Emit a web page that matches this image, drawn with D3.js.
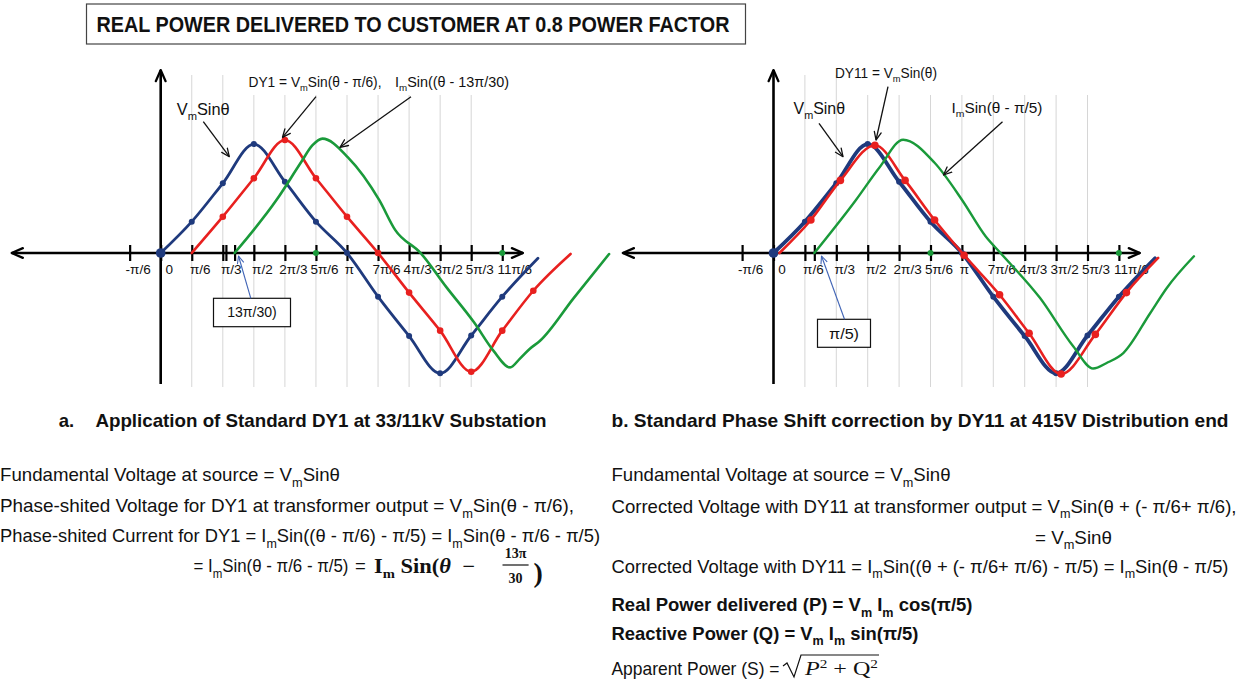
<!DOCTYPE html>
<html>
<head>
<meta charset="utf-8">
<script src="https://cdn.jsdelivr.net/npm/d3@7"></script>
<style>
body { margin: 0; background: #fff; }
svg text { font-family: "Liberation Sans", Arial, sans-serif; fill: #111; white-space: pre; }
</style>
</head>
<body>
<svg width="1239" height="679"></svg>
<script>
// angles are in units of pi/6, values are per unit of the peak
var tickPos = [-1, 0, 1, 2, 3, 4, 5, 6, 7, 8, 9, 10, 11];
var tickLabels = ["-π/6", "0", "π/6", "π/3", "π/2", "2π/3", "5π/6", "π", "7π/6", "4π/3", "3π/2", "5π/3", "11π/6"];
var gridPos = [1, 2, 3, 4, 5, 6, 7, 8, 9, 10];
var greenAxisDots = [5, 11];

// Vm Sin(theta) - same on both charts
var vmTheta = [0, 1, 2, 3, 4, 5, 6, 7, 8, 9, 10, 11, 12.15];
var vmValue = [0, 0.285, 0.634, 0.99, 0.648, 0.285, 0, -0.397, -0.755, -1.094, -0.75, -0.397, -0.048];

// chart a : DY1
var dy1Theta = [1, 2, 3, 4, 5, 6, 7, 8, 9, 10, 11, 12, 13.2];
var dy1Value = [0, 0.33, 0.68, 1.027, 0.68, 0.33, 0, -0.36, -0.706, -1.079, -0.706, -0.343, -0.009];
var imATheta = [2.38, 3.75, 4.51, 4.89, 5.21, 6.03, 7.04, 7.55, 8.37, 9.2, 10.09, 10.72, 11.25, 11.57, 11.89, 12.21, 13.3, 14.44];
var imAValue = [0, 0.49, 0.82, 0.98, 1.04, 0.87, 0.48, 0.21, 0, -0.31, -0.63, -0.89, -1.04, -0.96, -0.87, -0.8, -0.41, -0.01];
var extraTicksA = [2.1, 2.38];

// chart b : DY11
var dy11Theta = [0.19, 1.19, 2.13, 3.23, 4.19, 5.13, 6.07, 7.2, 8.14, 9.16, 10.25, 11.24, 12.25];
var dy11Value = [0, 0.3, 0.66, 0.98, 0.66, 0.3, -0.02, -0.38, -0.73, -1.1, -0.74, -0.36, -0.045];
var imBTheta = [1.3, 2.62, 3.38, 4.13, 5.13, 6.01, 6.76, 7.23, 8.49, 9.55, 10.18, 10.61, 11.14, 11.99, 12.52, 13.39];
var imBValue = [0, 0.48, 0.78, 1.03, 0.82, 0.48, 0.15, 0, -0.41, -0.85, -1.05, -1.0, -0.91, -0.55, -0.32, -0.03];
var extraTicksB = [1.3];

var BLUE = "#1f3a7d", RED = "#e8201f", GREEN = "#1a9a3a";

var svg = d3.select("svg");
var defs = svg.append("defs");

function arrowMarker(id, size, sw, color) {
  defs.append("marker")
    .attr("id", id)
    .attr("viewBox", "0 0 10 10")
    .attr("refX", 9).attr("refY", 5)
    .attr("markerUnits", "userSpaceOnUse")
    .attr("markerWidth", size).attr("markerHeight", size)
    .attr("orient", "auto-start-reverse")
  .append("path")
    .attr("d", "M1,1.5L9,5L1,8.5")
    .attr("fill", "none")
    .attr("stroke", color)
    .attr("stroke-width", sw)
    .attr("stroke-linecap", "round")
    .attr("stroke-linejoin", "round");
}
arrowMarker("axisHead", 14, 1.6, "#000");
arrowMarker("noteHead", 10, 1.3, "#111");
arrowMarker("blueHead", 9, 1.2, "#3f63b5");

function addText(x, y, str, size, len, opts) {
  opts = opts || {};
  var t = svg.append("text").attr("x", x).attr("y", y)
      .style("font-size", size + "px");
  if (opts.bold) t.style("font-weight", "bold");
  if (opts.family) t.style("font-family", opts.family);
  if (opts.anchor) t.attr("text-anchor", opts.anchor);
  var sub = false;
  str.split(/(_m)/).forEach(function(s) {
    if (s === "") return;
    if (s === "_m") {
      t.append("tspan").attr("dy", size * 0.3).style("font-size", (size * 0.68) + "px").text("m");
      sub = true;
    } else {
      var ts = t.append("tspan").text(s);
      if (sub) { ts.attr("dy", -size * 0.3); sub = false; }
    }
  });
  if (len) t.attr("textLength", len).attr("lengthAdjust", "spacingAndGlyphs");
  return t;
}

function note(x1, y1, x2, y2, head, color, w) {
  svg.append("line")
    .attr("x1", x1).attr("y1", y1).attr("x2", x2).attr("y2", y2)
    .attr("stroke", color).attr("stroke-width", w)
    .attr("marker-end", "url(#" + head + ")");
}

function drawPanel(p) {
  var x = d3.scaleLinear().domain([-1, 11]).range([p.x0 - p.unit, p.x0 + 11 * p.unit]);
  var y = d3.scaleLinear().domain([-1, 1]).range([363, 143]);
  var g = svg.append("g");

  g.selectAll(null).data(gridPos).enter().append("line")
    .attr("x1", function(d) { return x(d); })
    .attr("x2", function(d) { return x(d); })
    .attr("y1", function(d, i) { return i < 2 ? 75 : 95; })
    .attr("y2", 387)
    .attr("stroke", "#d6d6d6")
    .attr("stroke-width", 1);

  // axes with arrow heads
  g.append("line")
    .attr("x1", x(-4.8)).attr("x2", x(11.67))
    .attr("y1", y(0)).attr("y2", y(0))
    .attr("stroke", "#000").attr("stroke-width", 2.4)
    .attr("marker-start", "url(#axisHead)")
    .attr("marker-end", "url(#axisHead)");
  g.append("line")
    .attr("x1", x(0)).attr("x2", x(0))
    .attr("y1", 384).attr("y2", 70)
    .attr("stroke", "#000").attr("stroke-width", 2.6)
    .attr("marker-end", "url(#axisHead)");

  var ax = g.append("g")
    .attr("transform", "translate(0," + y(0) + ")")
    .call(d3.axisBottom(x)
      .tickValues(tickPos)
      .tickFormat(function(d, i) { return tickLabels[i]; })
      .tickSizeOuter(0));
  ax.attr("font-family", null).attr("font-size", null);
  ax.select(".domain").remove();
  ax.selectAll(".tick line").attr("y1", -8).attr("y2", 8).attr("stroke", "#000").attr("stroke-width", 2.2);
  ax.selectAll(".tick text")
    .attr("x", function(d) { return d == 11 ? 12 : (d == 6 ? 2 : 8); })
    .attr("y", 11).attr("fill", "#111").style("font-size", "13.5px");

  var ax2 = g.append("g")
    .attr("transform", "translate(0," + y(0) + ")")
    .call(d3.axisBottom(x).tickValues(p.extraTicks).tickFormat("").tickSizeOuter(0));
  ax2.select(".domain").remove();
  ax2.selectAll(".tick line").attr("y1", -8).attr("y2", 8).attr("stroke", "#000").attr("stroke-width", 2.2);

  var line = d3.line()
    .x(function(d) { return x(d[0]); })
    .y(function(d) { return y(d[1]); })
    .curve(d3.curveMonotoneX);

  p.series.forEach(function(s) {
    var pts = s.theta.map(function(t, i) { return [t, s.value[i]]; });
    g.append("path")
      .datum(pts)
      .attr("fill", "none")
      .attr("stroke", s.color)
      .attr("stroke-width", s.width)
      .attr("stroke-linejoin", "round")
      .attr("stroke-linecap", "round")
      .attr("d", line);
    if (s.dots) {
      var dp = pts.slice(s.dots == "all" ? 0 : 1, -1);
      g.selectAll(null).data(dp).enter().append("circle")
        .attr("cx", function(d) { return x(d[0]); })
        .attr("cy", function(d) { return y(d[1]); })
        .attr("r", function(d) { return d[0] == 0 ? 4.8 : s.r; })
        .attr("fill", s.color);
    }
  });

  g.selectAll(null).data(greenAxisDots).enter().append("circle")
    .attr("cx", function(d) { return x(d); })
    .attr("cy", y(0))
    .attr("r", 3)
    .attr("fill", GREEN);
}

drawPanel({
  x0: 160.7, unit: 31.05, extraTicks: extraTicksA,
  series: [
    {theta: vmTheta, value: vmValue, color: BLUE, width: 2.8, dots: "all", r: 3},
    {theta: dy1Theta, value: dy1Value, color: RED, width: 2.6, dots: "inner", r: 3.3},
    {theta: imATheta, value: imAValue, color: GREEN, width: 2.6}
  ]
});

drawPanel({
  x0: 773.5, unit: 31.4, extraTicks: extraTicksB,
  series: [
    {theta: vmTheta, value: vmValue, color: BLUE, width: 3.8, dots: "all", r: 3},
    {theta: dy11Theta, value: dy11Value, color: RED, width: 2.6, dots: "inner", r: 3.8},
    {theta: imBTheta, value: imBValue, color: GREEN, width: 2.4}
  ]
});

// title
svg.append("rect").attr("x", 86.5).attr("y", 4).attr("width", 659).attr("height", 40)
  .attr("fill", "none").attr("stroke", "#444").attr("stroke-width", 1.2);
addText(96.5, 31.5, "REAL POWER DELIVERED TO CUSTOMER AT 0.8 POWER FACTOR", 22, 633,
  {bold: true, family: "'Liberation Sans Narrow', 'Liberation Sans', Arial, sans-serif"});

// chart a notes
addText(176.7, 115, "V_mSinθ", 17, 53);
note(203.3, 121.7, 229.3, 156.7, "noteHead", "#111", 1.3);
addText(248.5, 87, "DY1 = V_mSin(θ - π/6),", 14, 133);
addText(395, 87, "I_mSin((θ - 13π/30)", 14, 114);
note(316, 96.7, 282.5, 137.3, "noteHead", "#111", 1.3);
note(411, 96.7, 340, 147.3, "noteHead", "#111", 1.3);
svg.append("rect").attr("x", 213.5).attr("y", 298.3).attr("width", 77).attr("height", 28.4)
  .attr("fill", "#fff").attr("stroke", "#111").attr("stroke-width", 1.2);
addText(252, 317, "13π/30)", 14, 49.5, {anchor: "middle"});
note(250.8, 298.3, 238.5, 256, "blueHead", "#3f63b5", 1.1);

// chart b notes
addText(835, 78, "DY11 = V_mSin(θ)", 14, 102);
note(888, 86.7, 876, 140, "noteHead", "#111", 1.3);
addText(793.5, 114, "V_mSinθ", 16.5, 51.6);
note(819, 123.3, 843, 156.7, "noteHead", "#111", 1.3);
addText(951.5, 113, "I_mSin(θ - π/5)", 14, 91);
note(1002.5, 121.7, 943.5, 175, "noteHead", "#111", 1.3);
svg.append("rect").attr("x", 817.5).attr("y", 319.3).attr("width", 53).attr("height", 28)
  .attr("fill", "#fff").attr("stroke", "#111").attr("stroke-width", 1.2);
addText(844, 338.5, "π/5)", 14, 30, {anchor: "middle"});
note(844.5, 319.3, 821.5, 256, "blueHead", "#3f63b5", 1.1);

// captions
addText(58.8, 426.5, "a.", 18.5, null, {bold: true});
addText(95.4, 426.5, "Application of Standard DY1 at 33/11kV Substation", 18.5, 451, {bold: true});
addText(611.5, 426.5, "b. Standard Phase Shift correction by DY11 at 415V Distribution end", 18.5, 617, {bold: true});

// left text block
addText(0, 481, "Fundamental Voltage at source = V_mSinθ", 18.5, 340);
addText(0, 512, "Phase-shited Voltage for DY1 at transformer output = V_mSin(θ - π/6),", 18.5, 574);
addText(0, 542, "Phase-shited Current for DY1 = I_mSin((θ - π/6) - π/5) = I_mSin(θ - π/6 - π/5)", 18.5, 600);
addText(193.5, 572, "= I_mSin(θ - π/6 - π/5)", 18.5, 155);
addText(355, 572, "=", 18.5);

var serifB = "'Liberation Serif', 'DejaVu Serif', serif";
var m = svg.append("text").attr("x", 374).attr("y", 573)
  .style("font-family", serifB).style("font-weight", "bold").style("font-size", "20px")
  .attr("textLength", 101).attr("lengthAdjust", "spacingAndGlyphs");
m.append("tspan").text("I");
m.append("tspan").attr("dy", 5).style("font-size", "13px").text("m");
m.append("tspan").attr("dy", -5).text(" Sin(");
m.append("tspan").style("font-style", "italic").text("θ");
m.append("tspan").text("  −");
addText(515.6, 558, "13π", 14, null, {anchor: "middle", bold: true, family: serifB});
svg.append("line").attr("x1", 502.5).attr("x2", 528.6).attr("y1", 565).attr("y2", 565)
  .attr("stroke", "#111").attr("stroke-width", 1.2);
addText(515.6, 583, "30", 14, null, {anchor: "middle", bold: true, family: serifB});
addText(533.5, 582, ")", 28, null, {bold: true, family: serifB});

// right text block
addText(611.5, 481, "Fundamental Voltage at source = V_mSinθ", 18.5, 339);
addText(611.5, 512.5, "Corrected Voltage with DY11 at transformer output = V_mSin(θ + (- π/6+ π/6),", 18.5, 625);
addText(1035, 543.5, "= V_mSinθ", 18.5, 77);
addText(611.5, 572.5, "Corrected Voltage with DY11 = I_mSin((θ + (- π/6+ π/6) - π/5) = I_mSin(θ - π/5)", 18.5, 617);
addText(611.5, 611, "Real Power delivered (P) = V_m I_m cos(π/5)", 18.5, 361, {bold: true});
addText(611.5, 639.5, "Reactive Power (Q) = V_m I_m sin(π/5)", 18.5, 307, {bold: true});
addText(611.5, 674.5, "Apparent Power (S) =", 18.5, 168);

// radical sign drawn as a path
svg.append("path")
  .attr("d", "M783,666L787,663L794,677L801,655L879,655")
  .attr("fill", "none").attr("stroke", "#111").attr("stroke-width", 1.2)
  .attr("stroke-linejoin", "miter");
var serif = "'Liberation Serif', 'DejaVu Serif', serif";
var r = svg.append("text").attr("x", 805).attr("y", 675)
  .style("font-family", serif).style("font-size", "19px")
  .attr("textLength", 73).attr("lengthAdjust", "spacingAndGlyphs");
r.append("tspan").style("font-style", "italic").text("P");
r.append("tspan").attr("dy", -7).style("font-size", "12px").text("2");
r.append("tspan").attr("dy", 7).text(" + Q");
r.append("tspan").attr("dy", -7).style("font-size", "12px").text("2");
</script>
</body>
</html>
